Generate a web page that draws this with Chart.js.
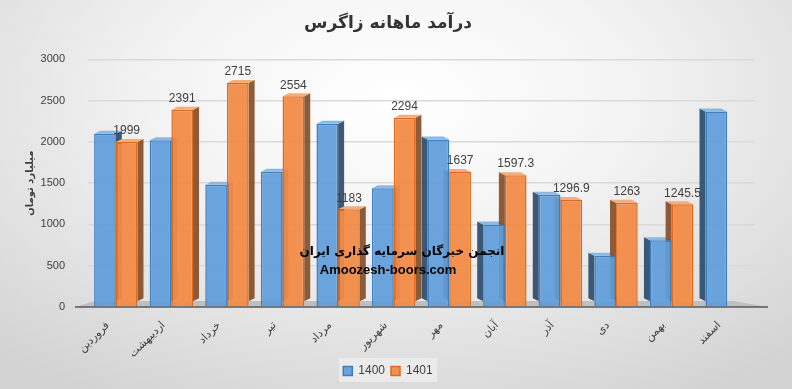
<!DOCTYPE html>
<html>
<head>
<meta charset="utf-8">
<script src="https://cdn.jsdelivr.net/npm/chart.js@4.4.1/dist/chart.umd.min.js"></script>
<style>
    html, body { margin: 0; padding: 0; }
    body {
        width: 792px;
        height: 389px;
        overflow: hidden;
        background: radial-gradient(ellipse 75% 90% at 50% 25%, #ffffff 0%, #f3f3f3 40%, #d2d2d2 100%);
    }
    #wrap { position: relative; width: 792px; height: 389px; }
</style>
</head>
<body>
<div id="wrap"><canvas id="zagros"></canvas></div>
<script>
// Months (Persian calendar)
var months = ['فروردین', 'اردیبهشت', 'خرداد', 'تیر', 'مرداد', 'شهریور', 'مهر', 'آبان', 'آذر', 'دی', 'بهمن', 'اسفند'];

// Revenue, billion toman
var sales1400 = [2100, 2020, 1480, 1640, 2220, 1440, 2030, 1000, 1360, 620, 810, 2370];
var sales1401 = [1999, 2391, 2715, 2554, 1183, 2294, 1637, 1597.3, 1296.9, 1263, 1245.5, null];

// Y axis ticks
var yTicks = [0, 500, 1000, 1500, 2000, 2500, 3000];

var seriesNames = ['1400', '1401'];

// Fake 3D: floor, side and top faces behind each bar
var depthPlugin = {
    id: 'depth',
    beforeDatasetsDraw: function (chart) {
        var ctx = chart.ctx;
        var area = chart.chartArea;
        var mid = (area.left + area.right) / 2;
        var d = 6, dy = 3;

        // Floor
        ctx.save();
        ctx.fillStyle = '#bfbfbf';
        ctx.beginPath();
        ctx.moveTo(area.left - 13, area.bottom);
        ctx.lineTo(area.right + 13, area.bottom);
        ctx.lineTo(area.right - 22, area.bottom - 6);
        ctx.lineTo(area.left + 7, area.bottom - 6);
        ctx.closePath();
        ctx.fill();
        ctx.strokeStyle = '#5a5a5a';
        ctx.lineWidth = 1.5;
        ctx.beginPath();
        ctx.moveTo(area.left - 13, area.bottom);
        ctx.lineTo(area.right + 13, area.bottom);
        ctx.stroke();

        var sides = ['rgba(45,75,108,0.92)', 'rgba(130,74,36,0.9)'];
        var tops = ['#8db8e2', '#f6ad78'];
        chart.data.datasets.forEach(function (ds, di) {
            var meta = chart.getDatasetMeta(di);
            meta.data.forEach(function (bar, i) {
                if (ds.data[i] == null) return;
                var w = bar.width / 2;
                var dir = bar.x < mid ? 1 : -1;
                var edge = bar.x + dir * w;
                ctx.fillStyle = sides[di];
                ctx.beginPath();
                ctx.moveTo(edge, bar.y);
                ctx.lineTo(edge + dir * d, bar.y - dy);
                ctx.lineTo(edge + dir * d, bar.base - 8);
                ctx.lineTo(edge, bar.base - 5);
                ctx.closePath();
                ctx.fill();
                ctx.fillStyle = tops[di];
                ctx.beginPath();
                ctx.moveTo(bar.x - w, bar.y);
                ctx.lineTo(bar.x - w + dir * d, bar.y - dy);
                ctx.lineTo(bar.x + w + dir * d, bar.y - dy);
                ctx.lineTo(bar.x + w, bar.y);
                ctx.closePath();
                ctx.fill();
            });
        });
        ctx.restore();
    },
    afterDatasetsDraw: function (chart) {
        var ctx = chart.ctx;
        var meta = chart.getDatasetMeta(1);
        var values = chart.data.datasets[1].data;
        ctx.save();
        ctx.font = '12px "Liberation Sans", Arial, sans-serif';
        ctx.fillStyle = '#404040';
        ctx.textAlign = 'center';
        ctx.textBaseline = 'bottom';
        meta.data.forEach(function (bar, i) {
            if (values[i] == null) return;
            ctx.fillText(String(values[i]), bar.x, bar.y - 5);
        });

        // Watermark
        var cx = chart.width / 2 + 6;
        ctx.fillStyle = '#000000';
        ctx.font = 'bold 12px "DejaVu Sans", sans-serif';
        ctx.textBaseline = 'middle';
        ctx.fillText('انجمن خبرگان سرمایه گذاری ایران', cx, 252);
        ctx.font = 'bold 13px "Liberation Sans", Arial, sans-serif';
        ctx.fillText('Amoozesh-boors.com', cx - 14, 270);
        ctx.restore();
    }
};

// Light panel behind the legend
var legendBoxPlugin = {
    id: 'legendBox',
    beforeDraw: function (chart) {
        var lg = chart.legend;
        if (!lg) return;
        var ctx = chart.ctx;
        var wBox = 98;
        var cx = lg.left + lg.width / 2;
        ctx.save();
        ctx.fillStyle = 'rgba(236,236,236,0.9)';
        ctx.fillRect(cx - wBox / 2, lg.top - 1, wBox, 24);
        ctx.restore();
    }
};

var ctx = document.getElementById('zagros').getContext('2d');
window.myBar = new Chart(ctx, {
    type: 'bar',
    data: {
        labels: months,
        datasets: [{
            label: seriesNames[0],
            data: sales1400,
            backgroundColor: 'rgba(95,157,218,0.92)',
            borderColor: '#3a7ec4',
            borderWidth: 1.5,
            categoryPercentage: 0.78,
            barPercentage: 1.0
        }, {
            label: seriesNames[1],
            data: sales1401,
            backgroundColor: 'rgba(242,139,72,0.95)',
            borderColor: '#e06a1c',
            borderWidth: 1.5,
            categoryPercentage: 0.78,
            barPercentage: 1.0
        }]
    },
    options: {
        responsive: true,
        maintainAspectRatio: false,
        animation: false,
        layout: {
            autoPadding: false,
            padding: { left: 21, right: 37, top: 4, bottom: 2 }
        },
        plugins: {
            title: {
                display: true,
                text: 'درآمد ماهانه زاگرس',
                color: '#333333',
                font: { size: 17, weight: 'bold', family: '"DejaVu Sans", sans-serif' },
                padding: { top: 9, bottom: 26 }
            },
            legend: {
                display: true,
                position: 'bottom',
                labels: {
                    color: '#404040',
                    font: { size: 12, family: '"Liberation Sans", Arial, sans-serif' },
                    boxWidth: 9,
                    boxHeight: 9,
                    padding: 6
                }
            },
            tooltip: { enabled: false }
        },
        scales: {
            x: {
                grid: { display: false },
                border: { display: false },
                afterFit: function (axis) { axis.height = 52; },
                ticks: {
                    color: '#404040',
                    font: { size: 11, family: '"DejaVu Sans", sans-serif' },
                    minRotation: 45,
                    maxRotation: 45,
                    padding: 4,
                    labelOffset: -8
                }
            },
            y: {
                min: 0,
                max: 3000,
                afterBuildTicks: function (axis) {
                    axis.ticks = yTicks.map(function (v) { return { value: v }; });
                },
                afterFit: function (axis) { axis.width = 67; },
                grid: { color: '#dadada', lineWidth: 1.5, drawTicks: false },
                border: { display: false },
                ticks: {
                    color: '#404040',
                    font: { size: 11, family: '"Liberation Sans", Arial, sans-serif' },
                    padding: 23,
                    callback: function (v) { return String(v); }
                },
                title: {
                    display: true,
                    text: 'میلیارد تومان',
                    color: '#404040',
                    font: { size: 10, weight: 'bold', family: '"DejaVu Sans", sans-serif' },
                    padding: 3
                }
            }
        }
    },
    plugins: [depthPlugin, legendBoxPlugin]
});
</script>
</body>
</html>
